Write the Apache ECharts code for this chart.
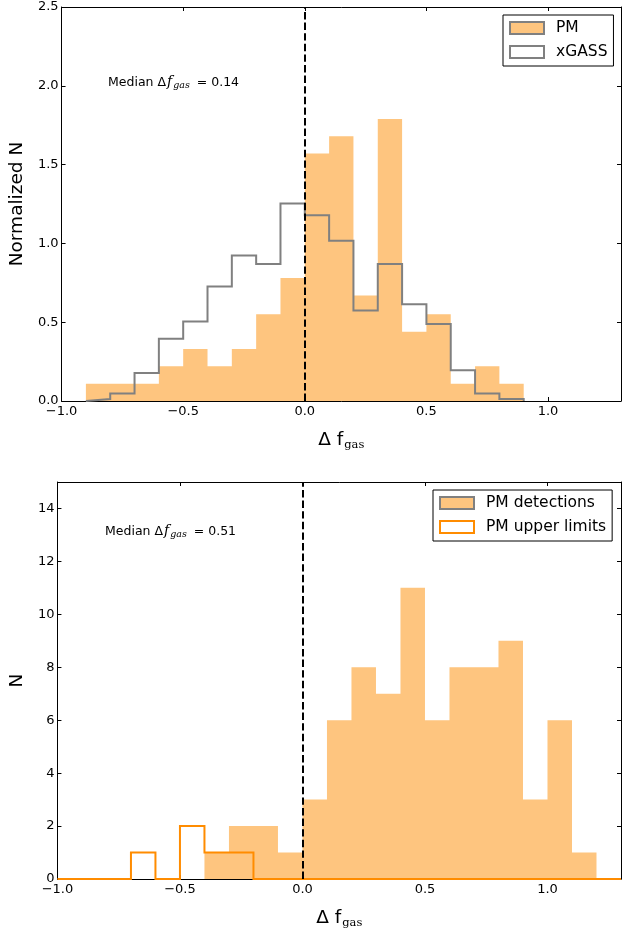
<!DOCTYPE html>
<html>
<head>
<meta charset="utf-8">
<script src="https://cdn.jsdelivr.net/npm/echarts@6/dist/echarts.min.js"></script>
<style>
html, body { margin: 0; padding: 0; background: #fff; }
#main { width: 627px; height: 930px; }
</style>
</head>
<body>
<div id="main"></div>
<script>
// top panel: normalized histograms, bins of 0.1
var topEdges = [-0.9, -0.8, -0.7, -0.6, -0.5, -0.4, -0.3, -0.2, -0.1, 0.0, 0.1, 0.2, 0.3, 0.4, 0.5, 0.6, 0.7, 0.8, 0.9];
var pmNorm = [0.11, 0.11, 0.11, 0.22, 0.33, 0.22, 0.33, 0.55, 0.78, 1.57, 1.68, 0.67, 1.79, 0.44, 0.55, 0.11, 0.22, 0.11];
var xgassNorm = [0.012, 0.047, 0.178, 0.395, 0.505, 0.726, 0.924, 0.87, 1.253, 1.178, 1.017, 0.575, 0.87, 0.614, 0.488, 0.195, 0.047, 0.012];

// bottom panel: counts
var detEdges = [-0.4, -0.3, -0.2, -0.1, 0.0, 0.1, 0.2, 0.3, 0.4, 0.5, 0.6, 0.7, 0.8, 0.9, 1.0, 1.1, 1.2];
var detCounts = [1, 2, 2, 1, 3, 6, 8, 7, 11, 6, 8, 8, 9, 3, 6, 1];
var ulEdges = [-1.0, -0.7, -0.6, -0.5, -0.4, -0.3, -0.2, 1.3];
var ulCounts = [0, 1, 0, 2, 1, 1, 0];

var medianTop = '0.14';
var medianBottom = '0.51';

var FONT = 'DejaVu Sans';
var orangeFill = '#fec57f';
var grayLine = '#808080';
var darkOrange = '#ff8c00';

// outline points of a histogram (step), starting and ending on 0
function steps(edges, vals) {
	var pts = [[edges[0], 0]];
	for (var i = 0; i < vals.length; i++) {
		pts.push([edges[i], vals[i]]);
		pts.push([edges[i + 1], vals[i]]);
	}
	pts.push([edges[edges.length - 1], 0]);
	return pts;
}

function xLabel(v) {
	if (Math.abs(v * 2 - Math.round(v * 2)) > 1e-6) return '';
	return v.toFixed(1).replace('-', '\u2212');
}

var dashLine = {
	silent: true,
	symbol: 'none',
	label: { show: false },
	lineStyle: { color: '#000', width: 2, type: [7.4, 3.2] },
	data: [{ xAxis: 0 }]
};

function xAx(grid, pos, withName) {
	return {
		type: 'value',
		gridIndex: grid,
		position: pos,
		min: -1.0,
		max: 1.3,
		interval: 0.5,
		splitLine: { show: false },
		axisLine: { show: true, onZero: false, lineStyle: { color: '#000', width: 1 } },
		axisTick: { show: true, inside: true, length: 4, lineStyle: { color: '#000' } },
		axisLabel: {
			show: pos === 'bottom',
			margin: 4,
			color: '#000',
			fontFamily: FONT,
			fontSize: 13,
			formatter: xLabel
		},
		name: withName ? '{a|\u0394 f}{b|gas}' : '',
		nameLocation: 'middle',
		nameGap: 30,
		nameTextStyle: {
			color: '#000',
			rich: {
				a: { fontFamily: FONT, fontSize: 18.5, lineHeight: 20, verticalAlign: 'top', color: '#000' },
				b: { fontFamily: 'DejaVu Serif', fontSize: 11.5, lineHeight: 12, padding: [13, 0, 0, 1], verticalAlign: 'bottom', color: '#000' }
			}
		}
	};
}

function yAx(grid, pos, max, interval, fmt, name, gap) {
	return {
		type: 'value',
		gridIndex: grid,
		position: pos,
		min: 0,
		max: max,
		interval: interval,
		splitLine: { show: false },
		axisLine: { show: true, onZero: false, lineStyle: { color: '#000', width: 1 } },
		axisTick: { show: true, inside: true, length: 4, lineStyle: { color: '#000' } },
		axisLabel: {
			show: pos === 'left',
			margin: 3,
			color: '#000',
			fontFamily: FONT,
			fontSize: 13,
			formatter: fmt
		},
		name: name,
		nameLocation: 'middle',
		nameGap: gap,
		nameTextStyle: { color: '#000', fontFamily: FONT, fontSize: 18.5 }
	};
}

function fillSeries(name, xi, yi, pts) {
	return {
		name: name,
		type: 'line',
		xAxisIndex: xi,
		yAxisIndex: yi,
		data: pts,
		symbol: 'none',
		showSymbol: false,
		lineStyle: { width: 0, color: orangeFill },
		itemStyle: { color: orangeFill },
		areaStyle: { color: orangeFill, opacity: 1 },
		z: 2,
		silent: true
	};
}

function outlineSeries(name, xi, yi, pts, color) {
	return {
		name: name,
		type: 'line',
		xAxisIndex: xi,
		yAxisIndex: yi,
		data: pts,
		symbol: 'none',
		showSymbol: false,
		lineStyle: { width: 2, color: color, join: 'miter' },
		itemStyle: { color: color },
		z: 3,
		silent: true,
		markLine: dashLine
	};
}

function medianText(left, top, val) {
	return {
		type: 'text',
		left: left,
		top: top,
		z: 10,
		style: {
			text: 'Median \u0394{f|f}{s|gas} = ' + val,
			fontFamily: FONT,
			fontSize: 12.5,
			fill: '#000',
			rich: {
				f: { fontFamily: 'DejaVu Serif', fontStyle: 'italic', fontSize: 14, lineHeight: 16, verticalAlign: 'top', padding: [0, 1, 0, 1] },
				s: { fontFamily: 'DejaVu Serif', fontStyle: 'italic', fontSize: 9.5, lineHeight: 10, padding: [8, 3, 0, 0], verticalAlign: 'bottom' }
			}
		}
	};
}

var chart = echarts.init(document.getElementById('main'));
var option = {
	animation: false,
	backgroundColor: '#fff',
	grid: [
		{ left: 60, top: 7, width: 561, height: 394 },
		{ left: 55, top: 482, width: 566, height: 400 }
	],
	xAxis: [
		xAx(0, 'bottom', true),
		xAx(0, 'top', false),
		xAx(1, 'bottom', true),
		xAx(1, 'top', false)
	],
	yAxis: [
		yAx(0, 'left', 2.5, 0.5, function (v) { return v.toFixed(1); }, 'Normalized N', 32),
		yAx(0, 'right', 2.5, 0.5, null, '', 0),
		yAx(1, 'left', 15, 2, function (v) { return v % 2 === 0 ? String(v) : ''; }, 'N', 28),
		yAx(1, 'right', 15, 2, null, '', 0)
	],
	legend: [
		{
			left: 503,
			top: 15,
			orient: 'vertical',
			selectedMode: false,
			itemWidth: 34,
			itemHeight: 12,
			itemGap: 8,
			padding: [5, 6, 6, 6],
			borderColor: '#000',
			borderWidth: 1,
			backgroundColor: '#fff',
			textStyle: { fontFamily: FONT, fontSize: 15.5, color: '#000', padding: [0, 0, 0, 7] },
			data: [
				{ name: 'PM', icon: 'rect', itemStyle: { color: orangeFill, borderColor: grayLine, borderWidth: 2 } },
				{ name: 'xGASS', icon: 'rect', itemStyle: { color: '#fff', borderColor: grayLine, borderWidth: 2 } }
			]
		},
		{
			left: 433,
			top: 490,
			orient: 'vertical',
			selectedMode: false,
			itemWidth: 34,
			itemHeight: 12,
			itemGap: 8,
			padding: [5, 6, 6, 6],
			borderColor: '#000',
			borderWidth: 1,
			backgroundColor: '#fff',
			textStyle: { fontFamily: FONT, fontSize: 15.5, color: '#000', padding: [0, 0, 0, 7] },
			data: [
				{ name: 'PM detections', icon: 'rect', itemStyle: { color: orangeFill, borderColor: grayLine, borderWidth: 2 } },
				{ name: 'PM upper limits', icon: 'rect', itemStyle: { color: '#fff', borderColor: darkOrange, borderWidth: 2 } }
			]
		}
	],
	graphic: [
		medianText(108, 73, medianTop),
		medianText(105, 522, medianBottom)
	],
	series: [
		fillSeries('PM', 0, 0, steps(topEdges, pmNorm)),
		outlineSeries('xGASS', 0, 0, steps(topEdges, xgassNorm), grayLine),
		fillSeries('PM detections', 2, 2, steps(detEdges, detCounts)),
		outlineSeries('PM upper limits', 2, 2, steps(ulEdges, ulCounts), darkOrange)
	]
};
chart.setOption(option);
</script>
</body>
</html>
